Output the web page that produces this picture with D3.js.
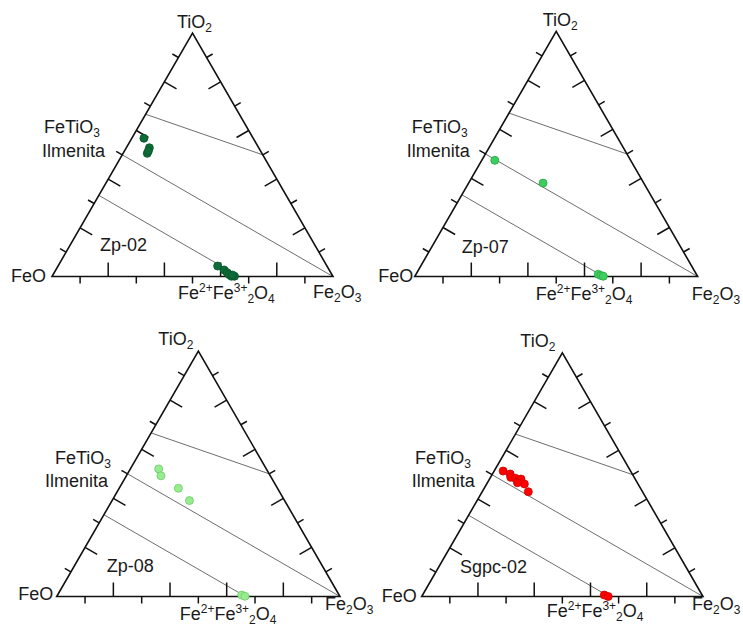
<!DOCTYPE html>
<html>
<head>
<meta charset="utf-8">
<script src="https://cdn.jsdelivr.net/npm/d3@7"></script>
<style>
  body { margin: 0; background: #fff; }
  text { font-family: "Liberation Sans", Arial, sans-serif; fill: #1a1a1a; }
</style>
</head>
<body>
<svg id="chart" width="743" height="628"></svg>
<script>
// Sample names, one ternary per sample
const samples = ["Zp-02", "Zp-07", "Zp-08", "Sgpc-02"];
const sampleFill = ["#0c6b37", "#3ccf5e", "#98ec90", "#ff0000"];
const sampleStroke = ["#09552b", "#2aa547", "#6ccb67", "#c80000"];

// Oxide compositions, [TiO2, FeO, Fe2O3] in %
const zp02 = [
  [56.8, 38.9, 4.3], [52.9, 38.9, 8.2], [50.6, 40.8, 8.6], [51.6, 39.9, 8.5],
  [4.3, 38.9, 56.8], [2.7, 37.4, 59.9], [1.6, 36.9, 61.5], [0.8, 36.6, 62.6],
  [0.1, 36.1, 63.8], [0.1, 35.0, 64.9], [0.6, 35.5, 63.9]
];
const zp07 = [
  [47.4, 48.0, 4.6], [38.1, 35.6, 26.3],
  [0.9, 34.7, 64.4], [0.4, 34.0, 65.6], [0.1, 33.3, 66.6]
];
const zp08 = [
  [52.0, 38.0, 10.0], [49.2, 38.6, 12.2], [44.1, 35.0, 20.9], [39.1, 33.6, 27.3],
  [0.6, 34.4, 65.0], [0.1, 33.5, 66.4]
];
const sgpc02 = [
  [51.5, 45.3, 3.2], [50.3, 43.4, 6.3], [48.9, 43.9, 7.2], [48.5, 42.4, 9.1],
  [47.5, 42.0, 10.5], [48.2, 40.6, 11.2], [46.2, 40.4, 13.4], [43.0, 40.6, 16.4],
  [46.7, 42.6, 10.7], [0.6, 34.8, 64.6], [0.0, 33.7, 66.3]
];
const sampleData = [zp02, zp07, zp08, sgpc02];

// Mineral joins [TiO2, FeO, Fe2O3]: FeTi2O5–Fe2TiO5, ilmenite–hematite, ulvöspinel–magnetite
const joins = [
  [[66.67, 33.33, 0], [50, 0, 50]],
  [[50, 50, 0], [0, 0, 100]],
  [[33.33, 66.67, 0], [0, 33.33, 66.67]]
];
// Edge tick positions (%)
const tickValues = [10, 20, 30, 40, 50, 60, 70, 80, 90];

// Triangle placement for each panel
const panels = [
  { x0: 52,    y0: 276.5, side: 281,
    lab: { ti: [2, -5, "middle"], fti: [-8, -143.2], ilm: [-10, -119.5], name: [48, -25.8],
           feo: [-6, 5.5], mag: [126, 22], hem: [-20, 21.5] } },
  { x0: 414.7, y0: 276.5, side: 283,
    lab: { ti: [4, -5, "middle"], fti: [-3, -143.2], ilm: [-8, -119.8], name: [47, -23.2],
           feo: [-1.5, 5.2], mag: [121, 23.5], hem: [-6, 23.5] } },
  { x0: 56.7,  y0: 596.5, side: 283.3,
    lab: { ti: [-5, -6, "end"], fti: [-1.7, -133], ilm: [-11.7, -109.8], name: [50, -24.8],
           feo: [-3.4, 3.5], mag: [123, 23.5], hem: [-15, 13] } },
  { x0: 421.7, y0: 596.5, side: 281.3,
    lab: { ti: [-7, -6, "end"], fti: [-6.7, -133], ilm: [-10, -109.8], name: [38.3, -23.2],
           feo: [-5, 5.2], mag: [125, 20], hem: [-11, 13.5] } }
];

const svg = d3.select("#chart");

// Text with sub/superscripts built from [string, kind] pieces
function richText(g, pieces, x, y, anchor) {
  const t = g.append("text").attr("x", x).attr("y", y)
    .attr("text-anchor", anchor || "start").attr("font-size", 18);
  let shift = 0;
  pieces.forEach(([s, kind]) => {
    const target = kind === "sub" ? 4 : kind === "sup" ? -7 : 0;
    t.append("tspan").attr("dy", target - shift)
      .attr("font-size", kind === "n" ? 18 : 12).text(s);
    shift = target;
  });
  return t;
}

panels.forEach((p, i) => {
  const h = p.side * Math.sqrt(3) / 2;
  const xs = d3.scaleLinear().domain([0, 100]).range([p.x0, p.x0 + p.side]);
  const ys = d3.scaleLinear().domain([0, 100]).range([p.y0, p.y0 - h]);
  const proj = ([ti, feo, fe3]) => {
    const s = ti + feo + fe3;
    const T = ti / s * 100, F = fe3 / s * 100;
    return [xs(F + T / 2), ys(T)];
  };
  const g = svg.append("g");

  const A = proj([0, 100, 0]);   // FeO
  const B = proj([0, 0, 100]);   // Fe2O3
  const C = proj([100, 0, 0]);   // TiO2

  // mineral joins
  g.selectAll("line.join").data(joins).join("line")
    .attr("x1", d => proj(d[0])[0]).attr("y1", d => proj(d[0])[1])
    .attr("x2", d => proj(d[1])[0]).attr("y2", d => proj(d[1])[1])
    .attr("stroke", "#6e6e6e").attr("stroke-width", 1);

  // triangle frame
  g.append("path")
    .attr("d", d3.line()([A, B, C]) + "Z")
    .attr("fill", "none").attr("stroke", "#111").attr("stroke-width", 1.6)
    .attr("stroke-linejoin", "miter");

  // ticks: long inward at even tenths, short outward at odd tenths
  const edges = [
    { at: v => proj([0, 100 - v, v]), nrm: [0, -1] },               // bottom
    { at: v => proj([v, 100 - v, 0]), nrm: [Math.sqrt(3) / 2, 0.5] }, // left
    { at: v => proj([v, 0, 100 - v]), nrm: [-Math.sqrt(3) / 2, 0.5] } // right
  ];
  edges.forEach(e => {
    g.selectAll(null).data(tickValues).join("line")
      .attr("x1", v => e.at(v)[0]).attr("y1", v => e.at(v)[1])
      .attr("x2", v => e.at(v)[0] + e.nrm[0] * (v % 20 === 0 ? 14 : -7))
      .attr("y2", v => e.at(v)[1] + e.nrm[1] * (v % 20 === 0 ? 14 : -7))
      .attr("stroke", "#111").attr("stroke-width", 1.5);
  });

  // sample points
  g.selectAll("circle").data(sampleData[i]).join("circle")
    .attr("cx", d => proj(d)[0]).attr("cy", d => proj(d)[1])
    .attr("r", 4)
    .attr("fill", sampleFill[i]).attr("stroke", sampleStroke[i]).attr("stroke-width", 0.8);

  // labels
  const L = p.lab;
  richText(g, [["TiO", "n"], ["2", "sub"]], C[0] + L.ti[0], C[1] + L.ti[1], L.ti[2]);
  richText(g, [["FeTiO", "n"], ["3", "sub"]], p.x0 + L.fti[0], p.y0 + L.fti[1]);
  richText(g, [["Ilmenita", "n"]], p.x0 + L.ilm[0], p.y0 + L.ilm[1]);
  richText(g, [[samples[i], "n"]], p.x0 + L.name[0], p.y0 + L.name[1]);
  richText(g, [["FeO", "n"]], p.x0 + L.feo[0], p.y0 + L.feo[1], "end");
  richText(g, [["Fe", "n"], ["2+", "sup"], ["Fe", "n"], ["3+", "sup"], ["2", "sub"], ["O", "n"], ["4", "sub"]],
    p.x0 + L.mag[0], p.y0 + L.mag[1]);
  richText(g, [["Fe", "n"], ["2", "sub"], ["O", "n"], ["3", "sub"]], B[0] + L.hem[0], p.y0 + L.hem[1]);
});
</script>
</body>
</html>
